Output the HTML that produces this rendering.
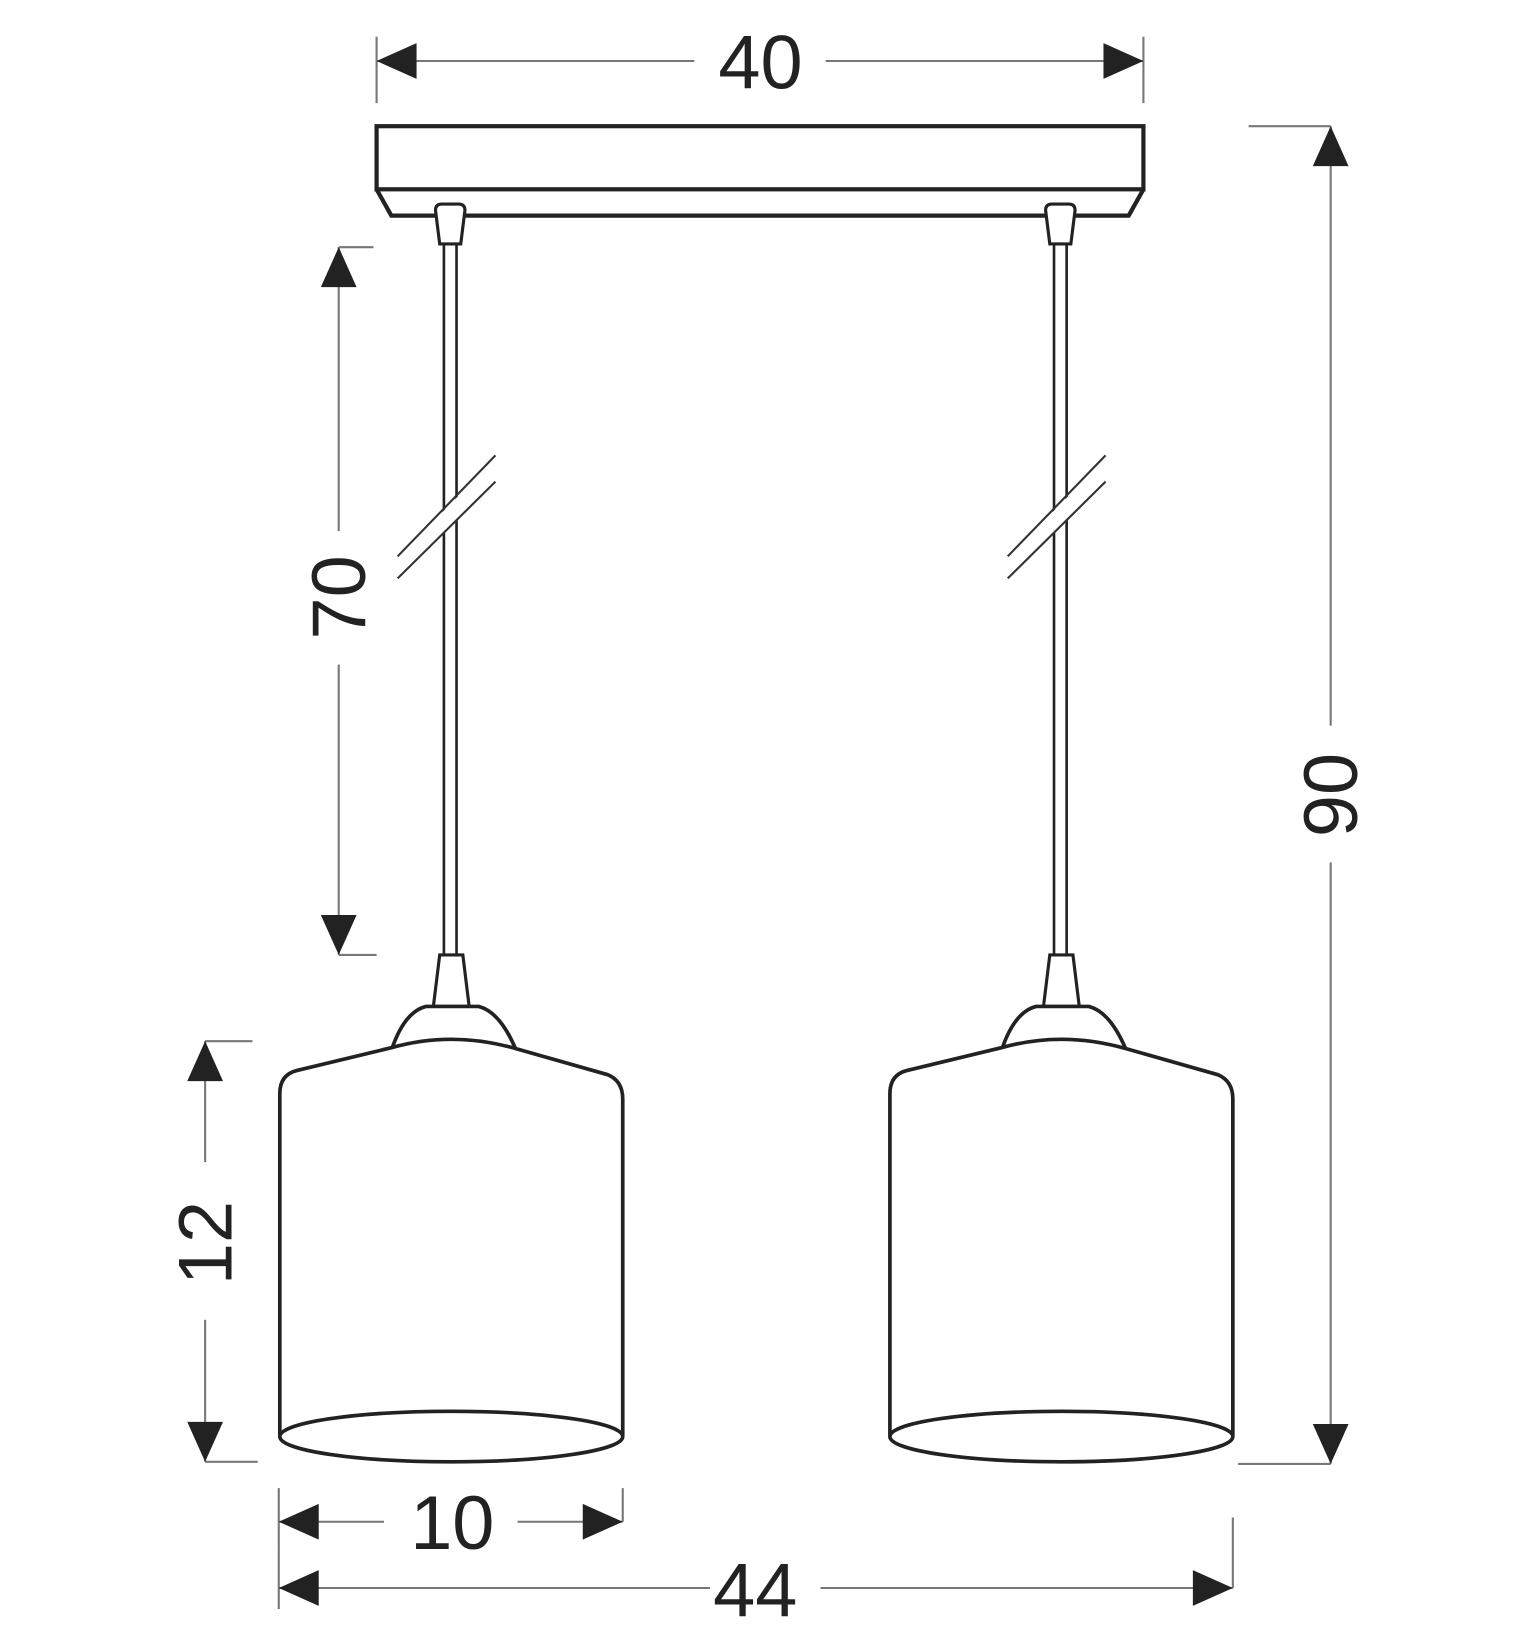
<!DOCTYPE html>
<html><head><style>html,body{margin:0;padding:0;background:#fff}svg{display:block}</style></head>
<body>
<svg width="1540" height="1649" viewBox="0 0 1464 1568" preserveAspectRatio="none" xmlns="http://www.w3.org/2000/svg">
<defs>
<g id="lamp">
  <!-- connector at canopy -->
  <path d="M414,200 Q414,194 420,194 L436,194 Q442,194 442,200 L438,232 L418,232 Z" fill="#fff" stroke="#222" stroke-width="3"/>
  <!-- cord -->
  <line x1="422" y1="232" x2="422" y2="908" stroke="#222" stroke-width="2.5"/>
  <line x1="434" y1="232" x2="434" y2="908" stroke="#222" stroke-width="2.5"/>
  <!-- break -->
  <polygon points="376,532 471,436 471,456 376,552" fill="#fff"/>
  <line x1="378" y1="529" x2="471" y2="433" stroke="#333" stroke-width="2"/>
  <line x1="378" y1="550" x2="471" y2="458" stroke="#333" stroke-width="2"/>
  <!-- socket -->
  <path d="M418,908 L440,908 L446,957 L412,957 Z" fill="#fff" stroke="#222" stroke-width="3"/>
  <!-- dome -->
  <path d="M373,996 Q385,962 405,957 L455,957 Q475,962 490,997" fill="#fff" stroke="#222" stroke-width="3.5"/>
  <!-- shade -->
  <path d="M266,1365 L266,1040 Q266,1022 282,1018 L373,996 Q430,980 490,997 L578,1022 Q592,1028 592,1045 L592,1365" fill="none" stroke="#222" stroke-width="3.5"/>
  <ellipse cx="429" cy="1366" rx="163" ry="24" fill="none" stroke="#222" stroke-width="3.5"/>
</g>
<path id="ah" d="M0,0 L-38,-17 L-38,17 Z" fill="#222"/>
</defs>

<g font-family="Liberation Sans, sans-serif" font-size="72" fill="#222" text-anchor="middle">
<!-- 40 -->
<line x1="358" y1="35" x2="358" y2="98" stroke="#777" stroke-width="2"/>
<line x1="1087" y1="35" x2="1087" y2="98" stroke="#777" stroke-width="2"/>
<line x1="358" y1="58" x2="660" y2="58" stroke="#777" stroke-width="2"/>
<line x1="785" y1="58" x2="1087" y2="58" stroke="#777" stroke-width="2"/>
<use href="#ah" transform="translate(358,58) rotate(180)"/>
<use href="#ah" transform="translate(1087,58)"/>
<text x="723" y="84">40</text>

<!-- canopy -->
<rect x="358" y="120" width="729" height="60" fill="#fff" stroke="#222" stroke-width="4"/>
<path d="M358,180 L372,205 L1073,205 L1087,180" fill="none" stroke="#222" stroke-width="4"/>

<use href="#lamp"/>
<use href="#lamp" transform="translate(580,0)"/>

<!-- 70 -->
<line x1="322" y1="235" x2="355" y2="235" stroke="#777" stroke-width="2"/>
<line x1="322" y1="908" x2="358" y2="908" stroke="#777" stroke-width="2"/>
<line x1="322" y1="235" x2="322" y2="505" stroke="#777" stroke-width="2"/>
<line x1="322" y1="632" x2="322" y2="908" stroke="#777" stroke-width="2"/>
<use href="#ah" transform="translate(322,235) rotate(-90)"/>
<use href="#ah" transform="translate(322,908) rotate(90)"/>
<text transform="translate(347,568) rotate(-90)">70</text>

<!-- 12 -->
<line x1="195" y1="990" x2="240" y2="990" stroke="#777" stroke-width="2"/>
<line x1="195" y1="1390" x2="245" y2="1390" stroke="#777" stroke-width="2"/>
<line x1="195" y1="990" x2="195" y2="1105" stroke="#777" stroke-width="2"/>
<line x1="195" y1="1255" x2="195" y2="1390" stroke="#777" stroke-width="2"/>
<use href="#ah" transform="translate(195,990) rotate(-90)"/>
<use href="#ah" transform="translate(195,1390) rotate(90)"/>
<text transform="translate(220,1182) rotate(-90)">12</text>

<!-- 90 -->
<line x1="1187" y1="120" x2="1265" y2="120" stroke="#777" stroke-width="2"/>
<line x1="1177" y1="1392" x2="1265" y2="1392" stroke="#777" stroke-width="2"/>
<line x1="1265" y1="120" x2="1265" y2="690" stroke="#777" stroke-width="2"/>
<line x1="1265" y1="820" x2="1265" y2="1392" stroke="#777" stroke-width="2"/>
<use href="#ah" transform="translate(1265,120) rotate(-90)"/>
<use href="#ah" transform="translate(1265,1392) rotate(90)"/>
<text transform="translate(1290,756) rotate(-90)">90</text>

<!-- 10 -->
<line x1="265" y1="1415" x2="265" y2="1470" stroke="#777" stroke-width="2"/>
<line x1="592" y1="1415" x2="592" y2="1447" stroke="#777" stroke-width="2"/>
<line x1="265" y1="1447" x2="365" y2="1447" stroke="#777" stroke-width="2"/>
<line x1="492" y1="1447" x2="592" y2="1447" stroke="#777" stroke-width="2"/>
<use href="#ah" transform="translate(265,1447) rotate(180)"/>
<use href="#ah" transform="translate(592,1447)"/>
<text x="430" y="1473">10</text>

<!-- 44 -->
<line x1="265" y1="1470" x2="265" y2="1530" stroke="#777" stroke-width="2"/>
<line x1="1172" y1="1443" x2="1172" y2="1510" stroke="#777" stroke-width="2"/>
<line x1="265" y1="1510" x2="675" y2="1510" stroke="#777" stroke-width="2"/>
<line x1="780" y1="1510" x2="1172" y2="1510" stroke="#777" stroke-width="2"/>
<use href="#ah" transform="translate(265,1510) rotate(180)"/>
<use href="#ah" transform="translate(1172,1510)"/>
<text x="718" y="1537">44</text>
</g>
</svg>
</body></html>
